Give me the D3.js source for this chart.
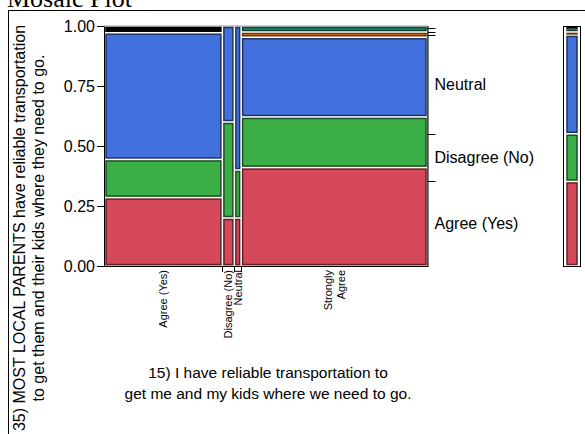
<!DOCTYPE html>
<html><head><meta charset="utf-8">
<script src="https://cdn.jsdelivr.net/npm/d3@7"></script>
<style>
body{margin:0;background:#fff;}
svg{display:block;}
text{font-family:"Liberation Sans",Arial,sans-serif;fill:#000;}
</style></head>
<body><svg id="c" width="585" height="434"></svg>
<script>
// ---- data ----
const xLevels = ["Agree (Yes)", "Disagree (No)", "Neutral", "Strongly\nAgree"];
const xShares = [0.365, 0.037, 0.021, 0.577];
const yLevels = ["Agree (Yes)", "Disagree (No)", "Neutral", "Strongly Agree", "Strongly Disagree", "Missing"];
const yColors = ["#D5495A", "#3BAE48", "#4270DC", "#E27A1F", "#1E8C6E", "#000000"];
const colAgree    = [0.285, 0.159, 0.528, 0.000, 0.000, 0.028];
const colDisagree = [0.200, 0.400, 0.400, 0.000, 0.000, 0.000];
const colNeutral  = [0.200, 0.200, 0.600, 0.000, 0.000, 0.000];
const colStrongly = [0.410, 0.211, 0.332, 0.022, 0.025, 0.000];
const colProps = [colAgree, colDisagree, colNeutral, colStrongly];
const yTicks = [0, 0.25, 0.5, 0.75, 1];
const xTitle = ["15) I have reliable transportation to", "get me and my kids where we need to go."];
const yTitle = ["35) MOST LOCAL PARENTS have reliable transportation", "to get them and their kids where they need to go."];

const svg = d3.select("#c");
const L = 104.5, R = 427.5, T = 26, B = 266;
const xs = d3.scaleLinear().domain([0, 1]).range([L, R]);
const ys = d3.scaleLinear().domain([0, 1]).range([B, T]);

// outer frame + title
svg.append("rect").attr("x", 8.5).attr("y", 10.5).attr("width", 700).attr("height", 600)
  .attr("fill", "none").attr("stroke", "#000");
svg.append("text").attr("x", 7).attr("y", 7).text("Mosaic Plot")
  .style("font-family", "'Liberation Serif','Times New Roman',serif").style("font-size", "26px");

// build cells
const g = 1.5;
const cells = [];
let cx = 0;
xShares.forEach((w, i) => {
  let cy = 0;
  colProps[i].forEach((p, k) => {
    if (p > 0) cells.push({x0: cx, x1: cx + w, y0: cy, y1: cy + p, k});
    cy += p;
  });
  cx += w;
});

// plot frame
svg.append("rect").attr("x", L).attr("y", T).attr("width", R - L).attr("height", B - T)
  .attr("fill", "none").attr("stroke", "#999").attr("stroke-width", 1);

svg.append("g").selectAll("rect").data(cells).join("rect")
  .attr("x", d => xs(d.x0) + g)
  .attr("width", d => Math.max(0.5, xs(d.x1) - xs(d.x0) - 2 * g))
  .attr("y", d => ys(d.y1) + g)
  .attr("height", d => Math.max(0.5, ys(d.y0) - ys(d.y1) - 2 * g))
  .attr("fill", d => yColors[d.k])
  .attr("stroke", d => d3.color(yColors[d.k]).darker(2.2))
  .attr("stroke-width", 1.5);

// left axis
const ax = svg.append("g").attr("transform", `translate(${L - 0.5},0)`)
  .call(d3.axisLeft(ys).tickValues(yTicks).tickFormat(d3.format(".2f")).tickSize(7).tickPadding(2).tickSizeOuter(0));
ax.selectAll("text").style("font-size", "16px").attr("fill", "#000");
ax.selectAll("line,path").attr("stroke", "#000");

// bottom axis line & boundary ticks
svg.append("line").attr("x1", L - 0.5).attr("x2", R + 0.5).attr("y1", B + 0.5).attr("y2", B + 0.5).attr("stroke", "#000");
const bounds = d3.cumsum(xShares).slice(0, -1);
svg.append("g").selectAll("line").data(bounds).join("line")
  .attr("x1", d => Math.round(xs(d)) + 0.5).attr("x2", d => Math.round(xs(d)) + 0.5)
  .attr("y1", B).attr("y2", B + 6).attr("stroke", "#000");

// x tick labels
let acc = 0;
const centers = xShares.map(w => { const c = acc + w / 2; acc += w; return c; });
xLevels.forEach((lab, i) => {
  const lines = lab.split("\n");
  lines.forEach((ln, j) => {
    const off = (j - (lines.length - 1) / 2) * 13;
    svg.append("text")
      .attr("transform", `translate(${xs(centers[i]) + off},${B + 4}) rotate(-90)`)
      .attr("text-anchor", "end").attr("dy", "0.35em")
      .style("font-size", "11px").text(ln);
  });
});

// right axis: marginal distribution
const marg = yLevels.map((_, k) => d3.sum(xShares, (w, i) => w * colProps[i][k]));
const cumM = d3.cumsum(marg);
svg.append("line").attr("x1", R + 0.5).attr("x2", R + 0.5).attr("y1", T).attr("y2", B + 1).attr("stroke", "#000");
svg.append("g").selectAll("line").data(cumM.slice(0, -1)).join("line")
  .attr("x1", R).attr("x2", R + 8)
  .attr("y1", d => Math.round(ys(d)) + 0.5).attr("y2", d => Math.round(ys(d)) + 0.5)
  .attr("stroke", "#000");
yLevels.forEach((lab, k) => {
  if (marg[k] < 0.05) return;
  const mid = cumM[k] - marg[k] / 2;
  svg.append("text").attr("x", R + 7).attr("y", ys(mid)).attr("dy", "0.35em")
    .style("font-size", "16px").text(lab);
});

// legend bar (marginal)
const LX0 = 563.5, LX1 = 580.5;
svg.append("rect").attr("x", LX0).attr("y", T + 0.5).attr("width", LX1 - LX0).attr("height", B - T)
  .attr("fill", "none").attr("stroke", "#000");
const lcells = [];
let ly = 0;
marg.forEach((m, k) => { if (m > 0) lcells.push({y0: ly, y1: ly + m, k}); ly += m; });
svg.append("g").selectAll("rect").data(lcells).join("rect")
  .attr("x", LX0 + 3.5).attr("width", LX1 - LX0 - 7)
  .attr("y", d => ys(d.y1) + g)
  .attr("height", d => Math.max(0.5, ys(d.y0) - ys(d.y1) - 2 * g))
  .attr("fill", d => yColors[d.k])
  .attr("stroke", d => d3.color(yColors[d.k]).darker(2.2))
  .attr("stroke-width", 1.5);

// axis titles
xTitle.forEach((t, i) => {
  svg.append("text").attr("x", 268).attr("y", 378 + i * 21).attr("text-anchor", "middle")
    .style("font-size", "15.5px").text(t);
});
yTitle.forEach((t, i) => {
  svg.append("text").attr("transform", `translate(${25 + i * 19},228) rotate(-90)`)
    .attr("text-anchor", "middle").style("font-size", "16px").text(t);
});
</script></body></html>
